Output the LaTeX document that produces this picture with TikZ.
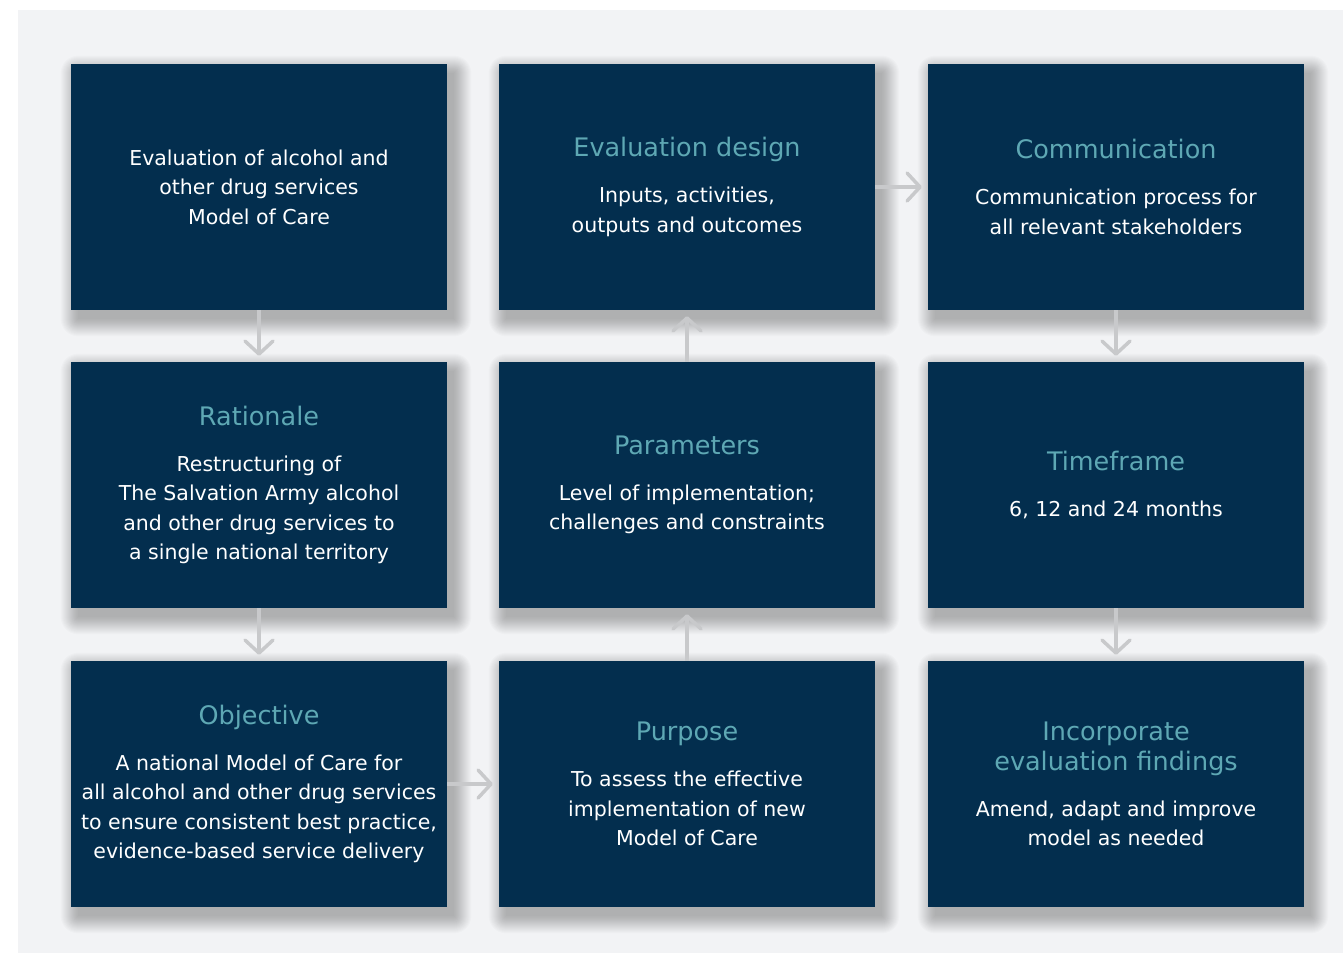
\documentclass[tikz,border=0pt]{standalone}
\usepackage{fontspec}
\setmainfont{DejaVu Sans}
\usetikzlibrary{arrows.meta,backgrounds}

\definecolor{navy}{HTML}{032E4E}
\definecolor{accentteal}{HTML}{5EA8B4}
\definecolor{panelgrey}{HTML}{F2F3F5}
\definecolor{arrowgrey}{HTML}{C8C9CB}

% title line inside a card
\newcommand\ttl[1]{{\color{accentteal}\fontsize{25.5}{30}\selectfont #1}}

\tikzset{
  card/.style={fill=navy, minimum width=376pt, minimum height=246pt,
    inner sep=0pt, align=center, text=white,
    font=\fontsize{20.5}{29.5}\selectfont},
  shadowlayer/.style={fill=black, fill opacity=0.017},
  flow/.style={draw=arrowgrey, line width=3.5pt,
    -{Straight Barb[length=13pt,width=28pt,round]}, shorten >=6pt},
}

\begin{document}
\begin{tikzpicture}[x=1pt,y=-1pt]
  \useasboundingbox (0,0) rectangle (1343,953);

  % top row
  \node[card] (model) at (259,187)
    {Evaluation of alcohol and\\other drug services\\Model of Care};
  \node[card] (design) at (687,187)
    {\ttl{Evaluation design}\\[16.5pt]Inputs, activities,\\outputs and outcomes};
  \node[card] (comm) at (1116,187)
    {\ttl{Communication}\\[16.5pt]Communication process for\\all relevant stakeholders};

  % middle row
  \node[card] (rationale) at (259,485)
    {\ttl{Rationale}\\[16.5pt]Restructuring of\\The Salvation Army alcohol\\and other drug services to\\a single national territory};
  \node[card] (params) at (687,485)
    {\ttl{Parameters}\\[16.5pt]Level of implementation;\\challenges and constraints};
  \node[card] (time) at (1116,485)
    {\ttl{Timeframe}\\[16.5pt]6, 12 and 24 months};

  % bottom row
  \node[card] (objective) at (259,784)
    {\ttl{Objective}\\[16.5pt]A national Model of Care for\\all alcohol and other drug services\\to ensure consistent best practice,\\evidence-based service delivery};
  \node[card] (purpose) at (687,784)
    {\ttl{Purpose}\\[16.5pt]To assess the effective\\implementation of new\\Model of Care};
  \node[card] (findings) at (1116,784)
    {\ttl{Incorporate}\\\ttl{evaluation findings}\\[16.5pt]Amend, adapt and improve\\model as needed};

  % grey panel, then soft drop shadows built from stacked translucent rectangles
  \begin{scope}[on background layer]
    \fill[panelgrey] (18,10) rectangle (1343,953);
    \foreach \n in {model,design,comm,rationale,params,time,objective,purpose,findings}{
      \foreach \r in {0,...,17}{
        \fill[shadowlayer, rounded corners=\r pt]
          ([xshift=7pt-\r pt, yshift=-9pt+\r pt]\n.north west)
          rectangle ([xshift=7pt+\r pt, yshift=-9pt-\r pt]\n.south east);
      }
    }
  \end{scope}

  % flow between the cards
  \draw[flow] (model) -- (rationale);
  \draw[flow] (rationale) -- (objective);
  \draw[flow] (objective) -- (purpose);
  \draw[flow] (purpose) -- (params);
  \draw[flow] (params) -- (design);
  \draw[flow] (design) -- (comm);
  \draw[flow] (comm) -- (time);
  \draw[flow] (time) -- (findings);
\end{tikzpicture}
\end{document}
